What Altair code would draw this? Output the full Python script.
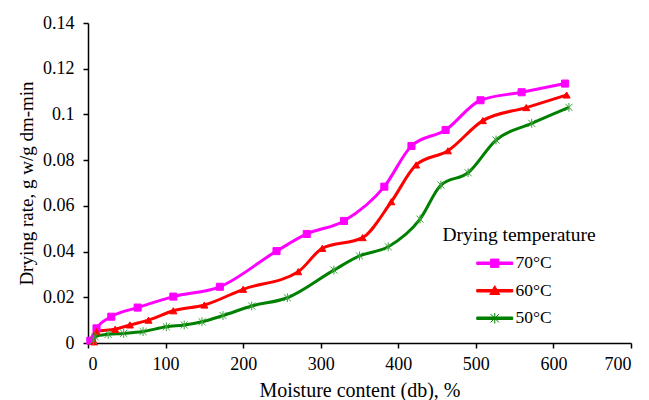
import altair as alt
import pandas as pd

series_names = ["70°C", "60°C", "50°C"]
colors = ["#FF00FF", "#FF0000", "#008000"]
marker_colors = ["#FF00FF", "#FF0000", "#3AA33A"]

x70 = [3, 11, 30, 64, 110, 170, 243, 282, 330, 382, 417, 461, 506, 559, 615]
y70 = [0.001, 0.0064, 0.0115, 0.0155, 0.0203, 0.0246, 0.0402, 0.0477, 0.0534,
       0.0684, 0.0862, 0.0932, 0.1062, 0.1097, 0.1135]

x60 = [8, 11, 35, 54, 78, 110, 150, 200, 271, 302, 354, 391, 423, 464, 509, 565, 617]
y60 = [0.0005, 0.005, 0.006, 0.0079, 0.010, 0.0141, 0.0166, 0.0235, 0.0312, 0.0414,
       0.0461, 0.0618, 0.0779, 0.0841, 0.0973, 0.1030, 0.1085]

x50 = [7, 9, 26, 46, 71, 101, 124, 147, 174, 211, 257, 317, 350, 387, 428, 455,
       490, 526, 572, 620]
y50 = [0.001, 0.0028, 0.0038, 0.0042, 0.005, 0.0071, 0.0079, 0.0093, 0.012, 0.0162,
       0.0198, 0.0319, 0.0381, 0.0421, 0.0542, 0.0691, 0.0745, 0.0888, 0.0961, 0.1031]

rows = []
for name, xs, ys in zip(series_names, [x70, x60, x50], [y70, y60, y50]):
    for a, b in zip(xs, ys):
        rows.append({"T": name, "mc": a, "rate": b})
df = pd.DataFrame(rows)

star = "M-1,-1L1,1M-1,1L1,-1M0,-1.25V1.25"
marker_shapes = ["square", "triangle-up", star]
bar = "M-4.3,-0.3H4.3V0.3H-4.3Z"
legend_shapes = [
    "M-1,-1H1V1H-1Z " + bar,
    "M0,-1.2L1.2,0.9H-1.2Z " + bar,
    bar + " " + star,
]

font = "Liberation Serif, Times New Roman, serif"

x_enc = alt.X("mc:Q", scale=alt.Scale(domain=[0, 700], nice=False),
              axis=alt.Axis(values=[0, 100, 200, 300, 400, 500, 600, 700],
                            title="Moisture content (db), %", titleFontSize=20,
                            labelPadding=7, titlePadding=7))
y_enc = alt.Y("rate:Q", scale=alt.Scale(domain=[0, 0.14], nice=False),
              axis=alt.Axis(values=[0, 0.02, 0.04, 0.06, 0.08, 0.1, 0.12, 0.14],
                            format=".2~f", title="Drying rate, g w/g dm-min",
                            titleFontSize=19, labelPadding=9, titlePadding=6))

color_scale = alt.Scale(domain=series_names, range=colors)
mcolor_scale = alt.Scale(domain=series_names, range=marker_colors)

lines = alt.Chart(df).mark_line(interpolate="monotone", strokeWidth=3).encode(
    x=x_enc, y=y_enc,
    color=alt.Color("T:N", scale=color_scale, legend=None),
    detail="T:N",
)

points = alt.Chart(df).mark_point(filled=True, size=50, strokeWidth=1, opacity=1).encode(
    x="mc:Q", y="rate:Q",
    color=alt.Color("T:N", scale=mcolor_scale, legend=None),
    stroke=alt.Stroke("T:N", scale=mcolor_scale, legend=None),
    shape=alt.Shape("T:N", scale=alt.Scale(domain=series_names, range=marker_shapes), legend=None),
)

legend_layer = alt.Chart(df).transform_filter("datum.T == 'none'").mark_point(
    filled=True, size=70, strokeWidth=1, opacity=1
).encode(
    x="mc:Q", y="rate:Q",
    color=alt.Color("T:N", scale=color_scale,
                    legend=alt.Legend(title="Drying temperature", orient="none",
                                      legendX=354, legendY=203, titleFontSize=19.5,
                                      titleFont=font, titleFontWeight="normal",
                                      labelFont=font, labelFontSize=17.5,
                                      titleAnchor="middle", titlePadding=9,
                                      rowPadding=8.5, labelOffset=12,
                                      symbolStrokeWidth=1, symbolSize=70,
                                      symbolOpacity=1, titleColor="black",
                                      labelColor="black")),
    shape=alt.Shape("T:N", scale=alt.Scale(domain=series_names, range=legend_shapes)),
    stroke=alt.Stroke("T:N", scale=color_scale, legend=None),
)

chart = alt.layer(lines, points, legend_layer).resolve_scale(
    color="independent", shape="independent", stroke="independent"
).properties(
    width=543, height=320,
    autosize=alt.AutoSizeParams(type="none"),
    padding={"left": 80, "top": 15, "right": 10, "bottom": 62},
).configure_view(stroke=None).configure_axis(
    labelFont=font, titleFont=font, labelFontSize=18,
    titleFontWeight="normal", labelColor="black", titleColor="black",
    domainColor="black", tickColor="black", domainWidth=1.5, tickWidth=1.5,
    tickSize=5, grid=False,
)

chart.save("out.html", embed_options={"renderer": "svg", "actions": False})
